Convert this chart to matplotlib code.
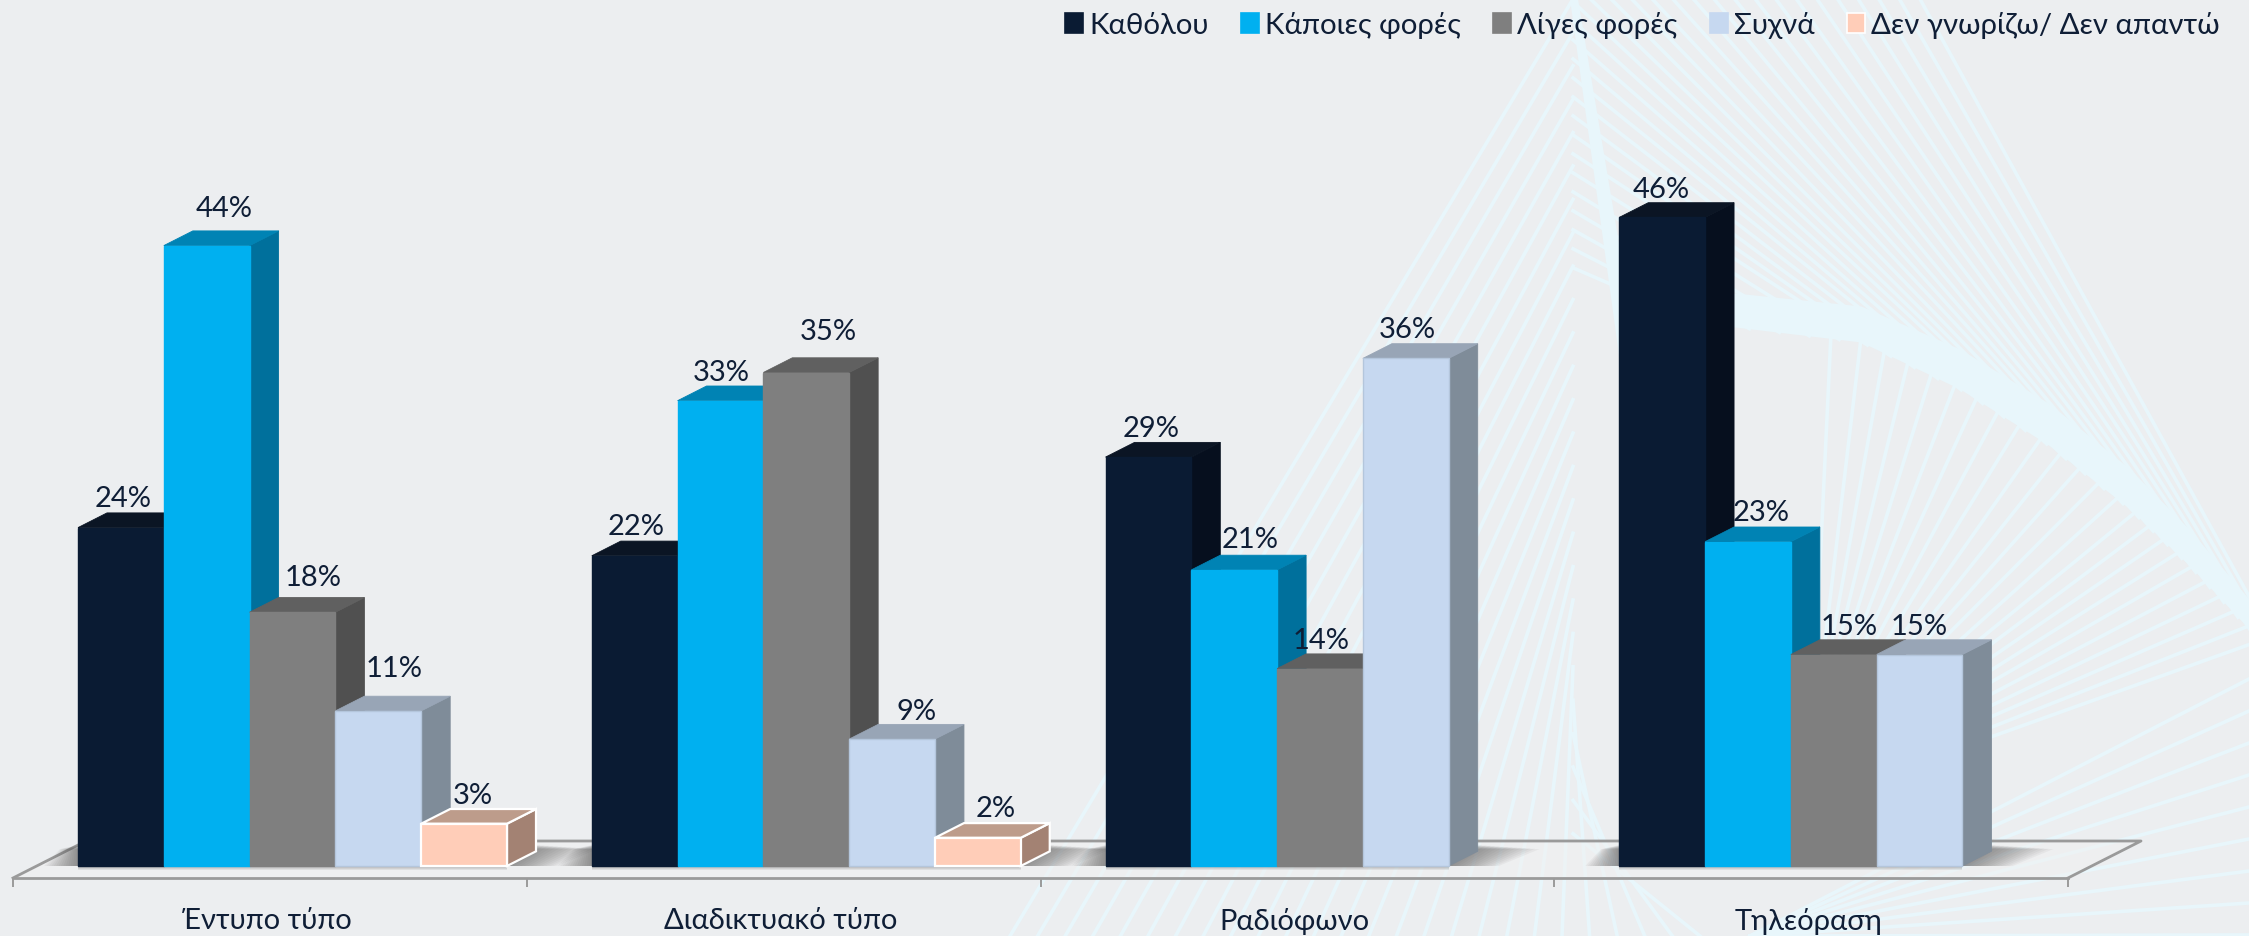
import numpy as np
import matplotlib
matplotlib.use('Agg')
import matplotlib.pyplot as plt
from matplotlib.patches import Patch, Polygon

plt.rcParams['font.family'] = ['Lato', 'Noto Sans']

categories = ['Έντυπο τύπο', 'Διαδικτυακό τύπο', 'Ραδιόφωνο', 'Τηλεόραση']
series_names = ['Καθόλου', 'Κάποιες φορές', 'Λίγες φορές', 'Συχνά', 'Δεν γνωρίζω/ Δεν απαντώ']
katholou = [24, 22, 29, 46]
kapoies = [44, 33, 21, 23]
liges = [18, 35, 14, 15]
syxna = [11, 9, 36, 15]
den_gnorizo = [3, 2, 0, 0]
all_series = [katholou, kapoies, liges, syxna, den_gnorizo]

front = ['#0A1B33', '#00B0F0', '#7F7F7F', '#C6D8F0', '#FFCDB8']
side = ['#060F1E', '#00709C', '#505050', '#7F8C99', '#A38273']
top = ['#0B1524', '#0083B4', '#606060', '#98A5B6', '#BD9C8B']
edge = ['#0A1B33', '#00B0F0', '#7F7F7F', '#B4C6DC', '#FFFFFF']
text_col = '#0F1E36'
bg = '#ECEEF0'
ray = '#E8F6FB'

# label offsets from the bar top centre, in pixels (x, y), hand placed in the original
label_off = [
    [(0, 31), (-1, 31), (0, 31), (-3, 30)],
    [(15, 39), (-2, 30), (13, 32), (11, 31)],
    [(18, 37), (20, 43), (-1, 30), (13, 30)],
    [(13, 44), (22, 30), (-1, 31), (-3, 30)],
    [(6, 30), (15, 31), (0, 0), (0, 0)],
]

W, H = 2249, 937
fig = plt.figure(figsize=(W / 100, H / 100), dpi=100, facecolor=bg)

# background string art
bk = fig.add_axes([0, 0, 1, 1], zorder=0)
bk.set_xlim(0, W)
bk.set_ylim(H, 0)
bk.axis('off')

env_x = [1650, 1735, 1861, 1960, 2050, 2130, 2190, 2249, 2300]
env_y = [322, 328, 343, 390, 447, 510, 567, 630, 690]
env_w = [34, 34, 36, 40, 42, 40, 36, 30, 26]

def env(t):
    return np.interp(t, np.linspace(0, 1, len(env_x)), env_x), np.interp(t, np.linspace(0, 1, len(env_y)), env_y)

bk.fill_between(env_x, np.array(env_y) - np.array(env_w), env_y, color=ray, lw=0)
bk.fill([1570, 1578, 1625, 1625], [0, 0, 280, 400], color=ray, lw=0)
for t in np.linspace(0.08, 1, 32):
    if t < 0.5:
        x0, y0 = 1573, 320 - 640 * t
    else:
        x0, y0 = 1573 + 694 * (t - 0.5), 0
    x1, y1 = env(t)
    bk.plot([x0, x1], [y0, y1], color=ray, lw=2.6)
for t in np.linspace(0.22, 0.9, 24):
    x0, y0 = env(t)
    x1 = 1806 - (t - 0.22) * 230
    bk.plot([x0, x1], [y0, 860], color=ray, lw=2.6)
for y0 in np.arange(680, 937, 32):
    bk.plot([2249, 1750], [y0, 937], color=ray, lw=2.6)
for x0 in np.linspace(1010, 1700, 26):
    bk.plot([x0, 1573], [937, (x0 - 1010) / 410 * 496], color=ray, lw=2.6)

# main axes, bottom spine is the front edge of the floor
px_left, px_right, px_base = 13, 2068, 879
ax = fig.add_axes([px_left / W, 1 - px_base / H, (px_right - px_left) / W, px_base / H], zorder=1)
ax.patch.set_visible(False)
ux = (px_right - px_left) / 4
uy = 14.1
ax.set_xlim(0, 4)
ax.set_ylim(-12 / uy, (px_base - 12) / uy)

bar_w = 85.8 / ux
start = 65 / ux
depth_x = 29 / ux
depth_y = 14.7 / uy
floor_x = 73 / ux
floor_y = (879 - 842) / uy
y_front = -12 / uy

ax.add_patch(Polygon([(0, y_front), (4, y_front), (4 + floor_x, y_front + floor_y), (floor_x, y_front + floor_y)],
                     closed=True, facecolor='#F1F1F1', alpha=0.55, edgecolor='none', clip_on=False, zorder=1))
ax.plot([0, floor_x, 4 + floor_x, 4], [y_front, y_front + floor_y, y_front + floor_y, y_front],
        color='#9A9A9A', lw=2, clip_on=False, zorder=1.5)

# soft shadow on the floor round each group
for i in range(4):
    n_bars = sum(1 for s in all_series if s[i] > 0)
    x_l = i + start
    x_r = x_l + n_bars * bar_w
    for k in range(14):
        g = k / 14
        ax.add_patch(Polygon([(x_l - 34 * (1 - g) / ux, 0), (x_r + 50 * (1 - g) / ux, 0),
                              (x_r + (29 + 62 * (1 - g)) / ux, (21 - 4 * (1 - g)) / uy),
                              (x_l - 18 * (1 - g) / ux, (21 - 4 * (1 - g)) / uy)],
                             closed=True, facecolor='#555555', alpha=0.06, edgecolor='none', clip_on=False, zorder=1.6))
    for k in range(4):
        ax.add_patch(Polygon([(x_l, 0), (x_r, 0), (x_r, -(1 + k) / uy), (x_l, -(1 + k) / uy)],
                             closed=True, facecolor='#555555', alpha=0.1, edgecolor='none', clip_on=False, zorder=1.6))

for j, vals in enumerate(all_series):
    xs = np.arange(4) + start + j * bar_w
    ax.bar(xs, vals, width=bar_w, align='edge', color=[front[j] if v > 0 else 'none' for v in vals],
           edgecolor=[edge[j] if v > 0 else 'none' for v in vals], linewidth=1.6 if j == 4 else 1,
           zorder=2 + j * 0.1 + 0.02)
    for i, v in enumerate(vals):
        if v == 0:
            continue
        x = xs[i]
        lw = 1.6 if j == 4 else 0.6
        ec = edge[j] if j == 4 else side[j]
        ax.add_patch(Polygon([(x + bar_w, 0), (x + bar_w + depth_x, depth_y), (x + bar_w + depth_x, v + depth_y), (x + bar_w, v)],
                             closed=True, facecolor=side[j], edgecolor=ec, lw=lw, zorder=2 + j * 0.1))
        ax.add_patch(Polygon([(x, v), (x + depth_x, v + depth_y), (x + bar_w + depth_x, v + depth_y), (x + bar_w, v)],
                             closed=True, facecolor=top[j], edgecolor=top[j] if j != 4 else '#FFFFFF', lw=lw, zorder=2 + j * 0.1 + 0.01))
        dx, dy = label_off[j][i]
        ax.annotate(f'{v}%', (x + bar_w / 2, v), xytext=((dx + 2.5) * 0.72, (dy - 1.5) * 0.72), textcoords='offset points',
                    ha='center', va='center', fontsize=21, color=text_col, zorder=10, annotation_clip=False)

for s in ['top', 'left', 'right']:
    ax.spines[s].set_visible(False)
ax.spines['bottom'].set_color('#9A9A9A')
ax.spines['bottom'].set_linewidth(2)
ax.set_yticks([])
ax.set_xticks(np.arange(5))
ax.set_xticklabels([])
ax.set_xticks(np.arange(4) + 0.5 - 3 / ux, minor=True)
ax.set_xticklabels(categories, minor=True, fontsize=21, color=text_col)
ax.tick_params(axis='x', which='major', length=6.5, width=1.4, color='#9A9A9A')
ax.tick_params(axis='x', which='minor', length=0, pad=21)

handles = [Patch(facecolor=front[j], edgecolor=edge[j] if j == 4 else front[j], lw=1.2) for j in range(5)]
ax.legend(handles, series_names, ncol=5, frameon=False, fontsize=21.2, labelcolor=text_col,
          loc='upper right', bbox_to_anchor=((2220 - px_left) / (px_right - px_left), 0.986),
          bbox_transform=ax.transAxes, handlelength=0.6, handleheight=0.64,
          handletextpad=0.22, columnspacing=1.1, borderaxespad=0, borderpad=0)

fig.savefig('out.png', dpi=100, facecolor=bg)
